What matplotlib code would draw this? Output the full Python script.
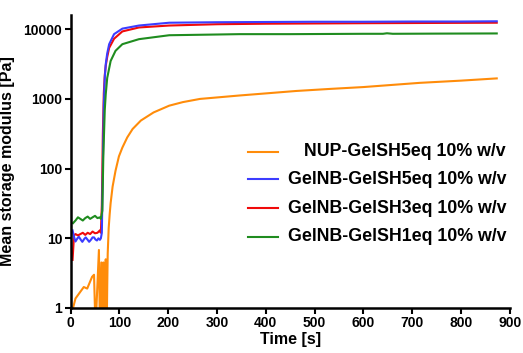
import matplotlib
matplotlib.use("Agg")
import matplotlib.pyplot as plt
from matplotlib.ticker import FixedLocator, NullLocator

plt.rcParams["font.family"] = ["Liberation Sans", "DejaVu Sans"]
plt.rcParams["font.weight"] = "bold"

# orange: NUP-GelSH5eq
t_nup = [5, 10, 17, 27, 34, 44, 48, 51, 58, 60, 63, 65, 67, 69, 72, 73, 74,
         75, 76, 78, 80, 82, 86, 92, 99, 106, 116, 127, 144, 170, 202, 230,
         265, 300, 346, 400, 462, 530, 600, 715, 800, 873]
g_nup = [1.0, 1.37, 1.6, 2.0, 1.9, 2.8, 3.0, 0.5, 6.8, 0.5, 4.5, 0.5, 4.5,
         0.5, 5.0, 0.5, 0.5, 2.0, 6.0, 14, 22, 32, 55, 93, 150, 200, 280,
         370, 490, 640, 800, 900, 1000, 1050, 1120, 1200, 1300, 1390, 1480,
         1700, 1830, 1970]

# blue: GelNB-GelSH5eq
t_sh5 = [4, 7, 10, 14, 17, 21, 24, 28, 31, 35, 38, 42, 45, 48, 51, 54, 57,
         60, 62, 64, 66, 68, 70, 72, 75, 79, 89, 106, 140, 202, 300, 400,
         500, 600, 700, 800, 873]
g_sh5 = [13, 10.5, 9.0, 10, 10.5, 9.5, 8.9, 9.8, 10.3, 9.5, 8.9, 9.6, 10.3,
         10.3, 9.6, 9.3, 10, 9.5, 10, 12, 100, 800, 2000, 3160, 4500, 6100,
         8500, 10200, 11300, 12400, 12600, 12700, 12800, 12800, 12900, 12900,
         13000]

# red: GelNB-GelSH3eq
t_sh3 = [4, 7, 10, 15, 20, 25, 30, 35, 40, 45, 50, 55, 60, 62, 64, 66, 68,
         70, 72, 75, 79, 89, 106, 140, 202, 300, 400, 600, 873]
g_sh3 = [4.9, 11, 11.5, 11, 11.5, 12, 11.2, 12, 11.5, 12.5, 11.8, 12, 13,
         12, 30, 300, 1200, 2200, 3000, 4000, 5400, 7300, 9300, 10600, 11300,
         11800, 12000, 12200, 12400]

# green: GelNB-GelSH1eq
t_sh1 = [5, 10, 15, 20, 25, 30, 35, 40, 45, 50, 55, 60, 62, 65, 67, 70, 72,
         75, 82, 92, 106, 140, 202, 300, 346, 450, 600, 640, 648, 660, 750,
         873]
g_sh1 = [16.5, 18, 20, 19, 18, 19.5, 20.5, 19, 20, 21, 19.5, 20, 19, 25, 150,
         700, 1170, 2000, 3500, 4900, 6100, 7200, 8200, 8400, 8500, 8500,
         8600, 8600, 8750, 8600, 8650, 8700]

series = [
    ("NUP-GelSH5eq 10% w/v", t_nup, g_nup, "#ff8c0a"),
    ("GelNB-GelSH5eq 10% w/v", t_sh5, g_sh5, "#3c3cff"),
    ("GelNB-GelSH3eq 10% w/v", t_sh3, g_sh3, "#f00a0a"),
    ("GelNB-GelSH1eq 10% w/v", t_sh1, g_sh1, "#1f8c1f"),
]

x_ticks = [0, 100, 200, 300, 400, 500, 600, 700, 800, 900]
y_ticks = [1, 10, 100, 1000, 10000]

fig = plt.figure(figsize=(5.23, 3.53), dpi=100)
ax = fig.add_axes([0.135, 0.1275, 0.84, 0.83])

draw_order = [0, 2, 1, 3]
for i in draw_order:
    label, t, g, c = series[i]
    ax.plot(t, g, color=c, lw=1.5, solid_joinstyle="round")

ax.set_yscale("log")
ax.set_xlim(0, 900)
ax.set_ylim(1, 16000)
ax.xaxis.set_major_locator(FixedLocator(x_ticks))
ax.yaxis.set_major_locator(FixedLocator(y_ticks))
ax.yaxis.set_minor_locator(NullLocator())
ax.set_yticklabels([str(v) for v in y_ticks])
ax.tick_params(axis="both", which="major", direction="out", length=4,
               width=1.5, labelsize=10, pad=2)
for lab in ax.get_xticklabels() + ax.get_yticklabels():
    lab.set_fontweight("bold")
for s in ["top", "right"]:
    ax.spines[s].set_visible(False)
for s in ["left", "bottom"]:
    ax.spines[s].set_linewidth(1.8)

ax.set_xlabel("Time [s]", fontsize=11.5, fontweight="bold", labelpad=1)
ax.set_ylabel("Mean storage modulus [Pa]", fontsize=11.5, fontweight="bold",
              labelpad=6)

# legend, text right-aligned as in the original
rows_y = [151.7, 179.3, 208.3, 236.7]
W, H = 523.0, 353.0
for (label, t, g, c), py in zip(series, rows_y):
    fy = 1 - py / H
    fig.add_artist(plt.Line2D([248 / W, 278 / W], [fy, fy], color=c, lw=1.5))
    fig.text(506 / W, fy, label, ha="right", va="center", fontsize=12.8,
             fontweight="bold")

fig.savefig("out.png", dpi=100)
